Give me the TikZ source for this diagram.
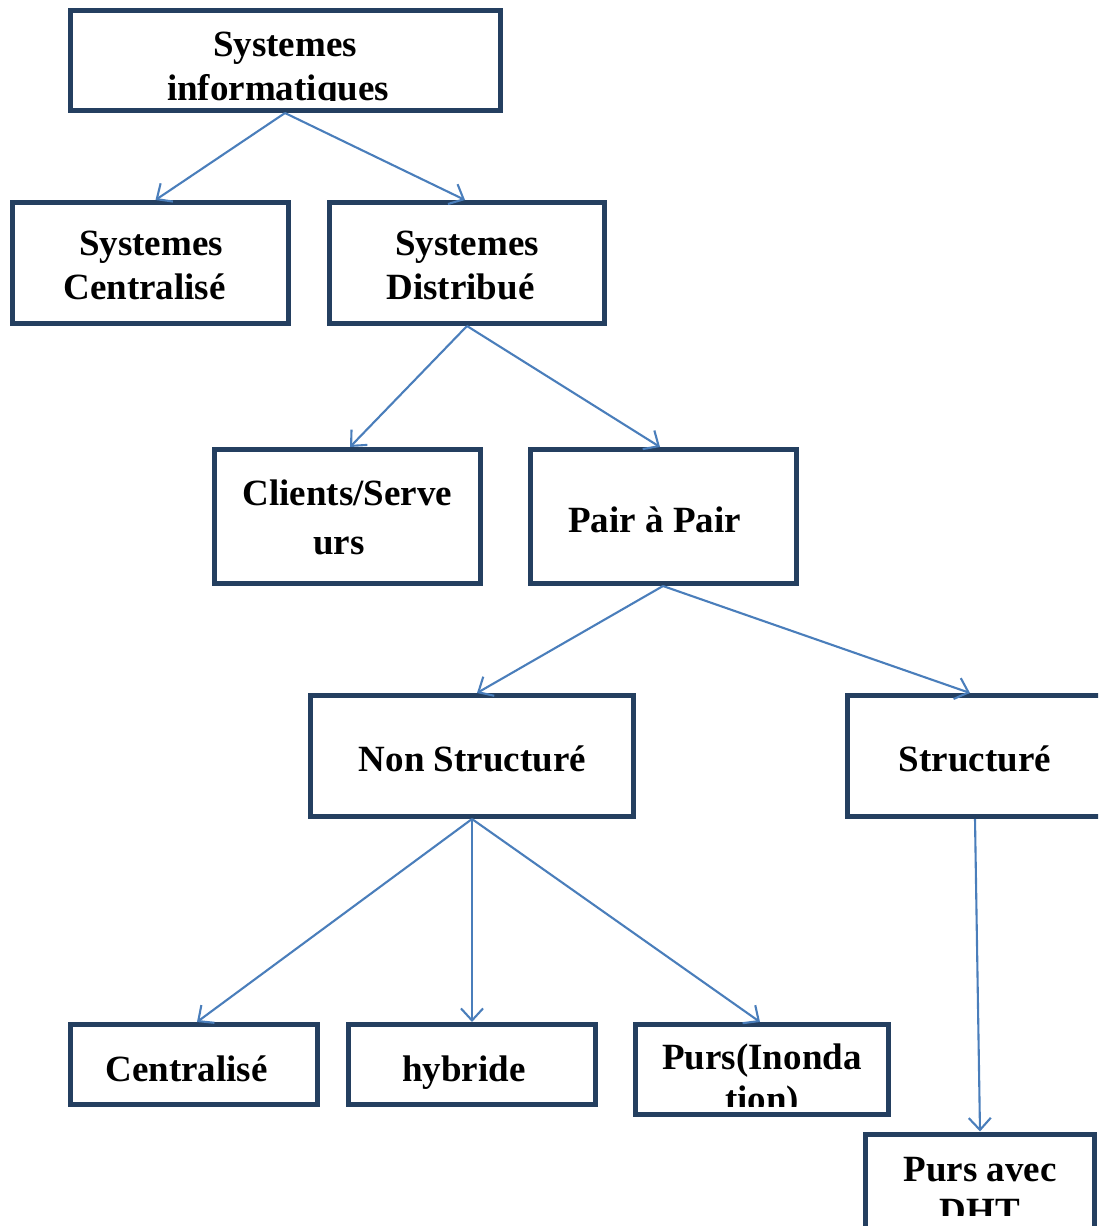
\documentclass[tikz,border=0pt]{standalone}
\usepackage{fontspec}
\setmainfont{Liberation Serif}
\usetikzlibrary{arrows.meta}
\definecolor{boxline}{HTML}{243F60}
\definecolor{linkline}{HTML}{4A7EBB}
\begin{document}
\begin{tikzpicture}[x=1pt,y=-1pt,
  box/.style 2 args={draw=boxline, line width=5pt, fill=white, inner sep=0pt,
    minimum width=#1, minimum height=#2},
  lbl/.style={font=\fontsize{37}{44}\selectfont\bfseries, inner sep=0pt, anchor=base},
  link/.style={draw=linkline, line width=2.1pt,
    -{Straight Barb[length=12pt,width=22pt,line width=2.1pt]}}]
\useasboundingbox (0,0) rectangle (1098,1226);
\clip (0,0) rectangle (1098,1226);

% boxes
\node[box={430pt}{100pt}] (si)   at (285,60.5)   {};
\node[box={276pt}{121pt}] (sc)   at (150.5,263)  {};
\node[box={275pt}{121pt}] (sd)   at (467,263)    {};
\node[box={266pt}{134pt}] (cs)   at (347.5,516.5){};
\node[box={266pt}{134pt}] (pp)   at (663.5,516.5){};
\node[box={323pt}{121pt}] (ns)   at (472,756)    {};
\node[box={255pt}{121pt}] (st)   at (975,756)    {};
\node[box={247pt}{80pt}]  (ce)   at (194,1064.5) {};
\node[box={247pt}{80pt}]  (hy)   at (472,1064.5) {};
\node[box={253pt}{90pt}]  (pi)   at (762,1069.5) {};
\node[box={229pt}{116pt}] (dht)  at (980,1192)   {};

% labels (text boxes cut their overflow at the inner margin)
\begin{scope}
  \clip (73,13) rectangle (497,100);
  \node[lbl] (siA) at (285,56) {Systemes};
  \node[lbl] (siB) at (278,100) {informatiques};
\end{scope}
\node[lbl] (scA) at (151,255) {Systemes};
\node[lbl] (scB) at (144.5,299) {Centralisé};
\node[lbl] (sdA) at (467,255) {Systemes};
\node[lbl] (sdB) at (460.5,299) {Distribué};
\node[lbl] (csA) at (347.5,505) {Clients/Serve};
\node[lbl] (csB) at (339,554) {urs};
\node[lbl] (ppA) at (654.5,532) {Pair à Pair};
\node[lbl] (nsA) at (472.5,771) {Non Structuré};
\node[lbl] (stA) at (975,771) {Structuré};
\node[lbl] (ceA) at (186.5,1081) {Centralisé};
\node[lbl] (hyA) at (464,1081) {hybride};
\begin{scope}
  \clip (638,1027) rectangle (886,1106);
  \node[lbl] (piA) at (762,1069) {Purs(Inonda};
  \node[lbl] (piB) at (762,1111) {tion)};
\end{scope}
\begin{scope}
  \clip (868,1137) rectangle (1092,1215);
  \node[lbl] (dhA) at (980,1181) {Purs avec};
  \node[lbl] (dhB) at (980,1223) {DHT};
\end{scope}

% connectors
\draw[link] (si.south) -- ([xshift=5pt]sc.north);
\draw[link] (si.south) -- ([xshift=-2pt]sd.north);
\draw[link] (sd.south) -- ([xshift=2.5pt]cs.north);
\draw[link] (sd.south) -- ([xshift=-3.5pt]pp.north);
\draw[link] ([xshift=-0.5pt]pp.south) -- ([xshift=5pt]ns.north);
\draw[link] ([xshift=-0.5pt]pp.south) -- ([xshift=-5pt]st.north);
\draw[link] (ns.south) -- ([xshift=3pt]ce.north);
\draw[link] (ns.south) -- (hy.north);
\draw[link] (ns.south) -- ([xshift=-2pt]pi.north);
\draw[link] (st.south) -- (dht.north);
\end{tikzpicture}
\end{document}
